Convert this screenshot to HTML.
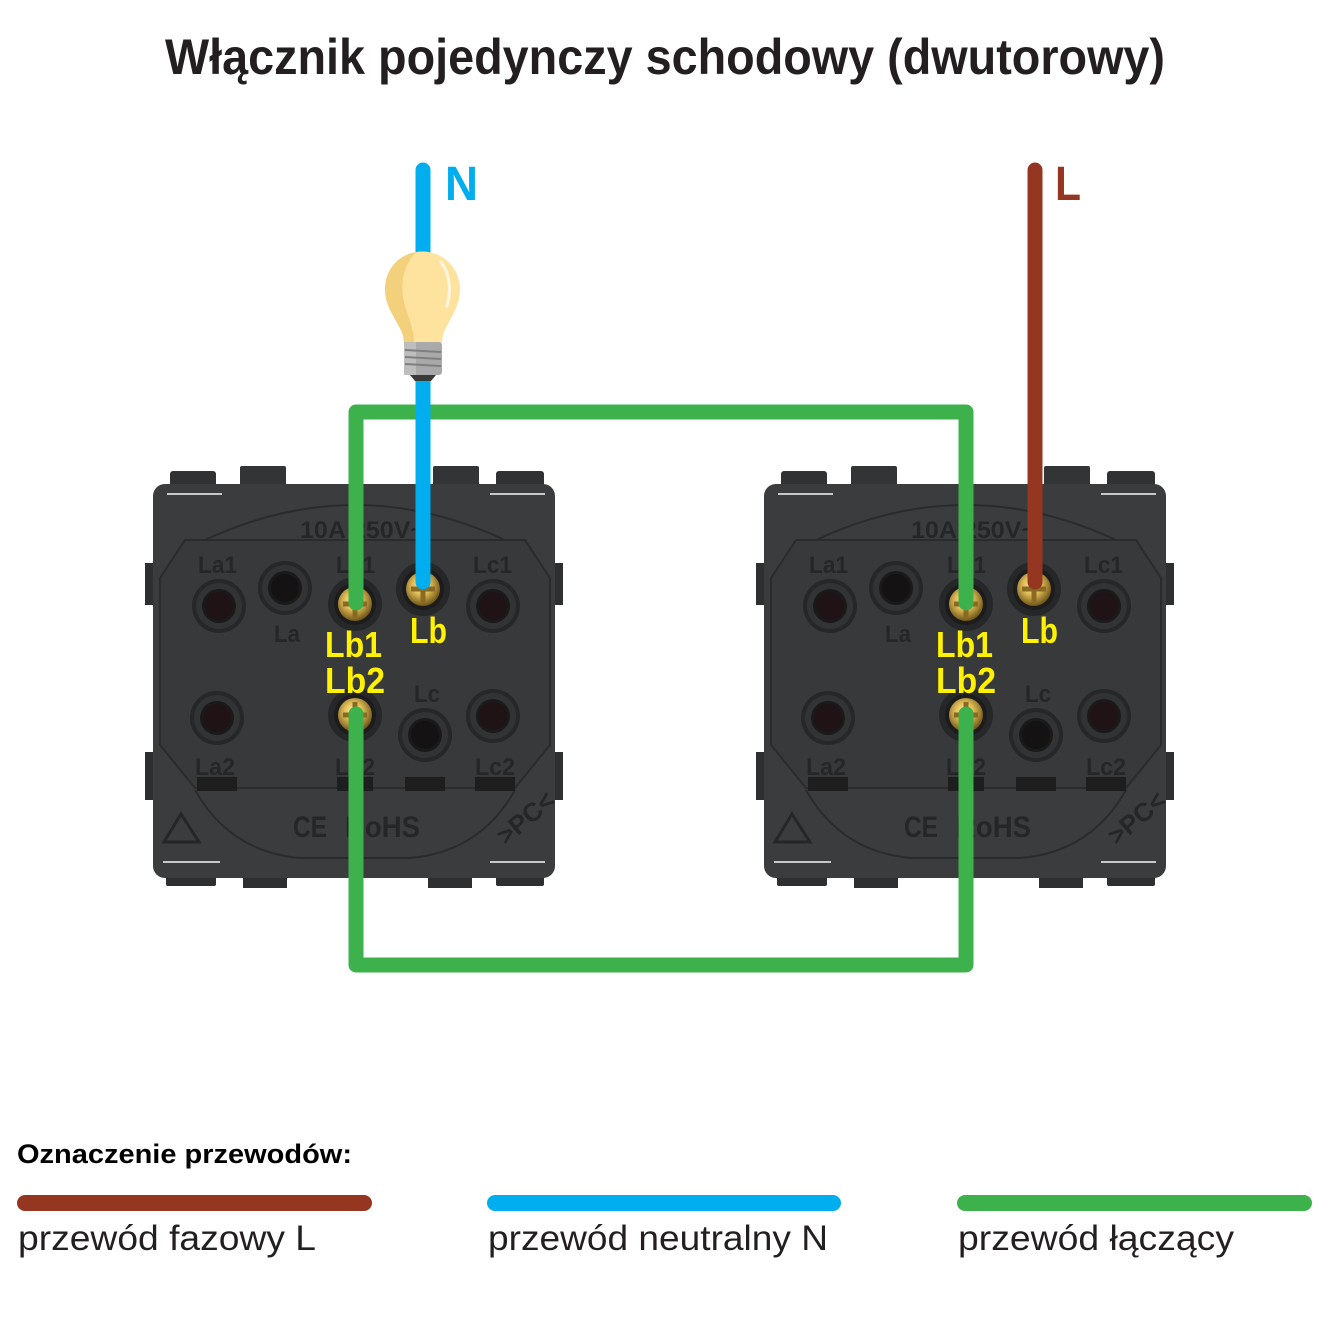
<!DOCTYPE html>
<html><head><meta charset="utf-8"><style>
html,body{margin:0;padding:0;background:#fff;}
svg{display:block;}
text{font-family:"Liberation Sans",sans-serif;}
.emb{fill:#252628;font-weight:bold;}
</style></head><body>
<svg width="1330" height="1330" viewBox="0 0 1330 1330" xmlns="http://www.w3.org/2000/svg">
<defs>
<radialGradient id="brass" cx="0.45" cy="0.4" r="0.6">
<stop offset="0" stop-color="#fff2b0"/>
<stop offset="0.45" stop-color="#e0bc55"/>
<stop offset="1" stop-color="#6e5519"/>
</radialGradient>
</defs>
<rect width="1330" height="1330" fill="#fff"/>

<text x="165" y="74" font-size="50" font-weight="bold" fill="#231f20" textLength="1000" lengthAdjust="spacingAndGlyphs">Włącznik pojedynczy schodowy (dwutorowy)</text>

<!-- MODULE LEFT -->
<g>
<rect x="145" y="563" width="14" height="42" fill="#2e2f31"/>
<rect x="145" y="752" width="14" height="48" fill="#2e2f31"/>
<rect x="549" y="563" width="14" height="42" fill="#2e2f31"/>
<rect x="549" y="752" width="14" height="48" fill="#2e2f31"/>
<rect x="170" y="471" width="46" height="22" rx="3" fill="#303133"/>
<rect x="240" y="466" width="46" height="22" rx="2" fill="#333436"/>
<rect x="433" y="466" width="46" height="22" rx="2" fill="#333436"/>
<rect x="496" y="471" width="48" height="22" rx="3" fill="#303133"/>
<rect x="166" y="866" width="50" height="20" rx="2" fill="#2e2f31"/>
<rect x="243" y="866" width="44" height="22" fill="#2e2f31"/>
<rect x="428" y="866" width="44" height="22" fill="#2e2f31"/>
<rect x="496" y="866" width="48" height="20" rx="2" fill="#2e2f31"/>
<rect x="153" y="484" width="402" height="394" rx="12" fill="#3b3c3e"/>
<line x1="167" y1="494" x2="222" y2="494" stroke="#c8c8c8" stroke-width="2"/>
<line x1="490" y1="494" x2="545" y2="494" stroke="#c8c8c8" stroke-width="2"/>
<line x1="163" y1="862" x2="220" y2="862" stroke="#c8c8c8" stroke-width="2"/>
<line x1="490" y1="862" x2="545" y2="862" stroke="#c8c8c8" stroke-width="2"/>
<path d="M205,540 Q355,470 505,540" fill="none" stroke="#2a2b2d" stroke-width="2"/>
<path d="M195,790 Q230,852 300,858 L410,858 Q480,852 515,790" fill="none" stroke="#2a2b2d" stroke-width="2"/>
<path d="M160,578 L185,540 L525,540 L550,578 L550,745 L515,788 L195,788 L160,745 Z" fill="#38393b" stroke="#2a2b2d" stroke-width="2"/>
<rect x="197" y="777" width="40" height="14" fill="#1e1e1f"/>
<rect x="337" y="777" width="36" height="14" fill="#1e1e1f"/>
<rect x="405" y="777" width="40" height="14" fill="#1e1e1f"/>
<rect x="475" y="777" width="40" height="14" fill="#1e1e1f"/>
<text class="emb" x="300" y="538" font-size="24" textLength="125" lengthAdjust="spacingAndGlyphs">10A 250V~</text>
<text class="emb" x="198" y="573" font-size="24" textLength="39" lengthAdjust="spacingAndGlyphs">La1</text>
<text class="emb" x="336" y="573" font-size="24" textLength="39" lengthAdjust="spacingAndGlyphs">Lb1</text>
<text class="emb" x="473" y="573" font-size="24" textLength="39" lengthAdjust="spacingAndGlyphs">Lc1</text>
<text class="emb" x="274" y="642" font-size="24" textLength="26" lengthAdjust="spacingAndGlyphs">La</text>
<text class="emb" x="414" y="702" font-size="24" textLength="26" lengthAdjust="spacingAndGlyphs">Lc</text>
<text class="emb" x="195" y="775" font-size="24" textLength="40" lengthAdjust="spacingAndGlyphs">La2</text>
<text class="emb" x="335" y="775" font-size="24" textLength="40" lengthAdjust="spacingAndGlyphs">Lb2</text>
<text class="emb" x="475" y="775" font-size="24" textLength="40" lengthAdjust="spacingAndGlyphs">Lc2</text>
<text class="emb" x="293" y="837" font-size="30" textLength="34" lengthAdjust="spacingAndGlyphs">CE</text>
<text class="emb" x="345" y="837" font-size="30" textLength="75" lengthAdjust="spacingAndGlyphs">RoHS</text>
<path d="M181,814 L199,842 L164,842 Z" fill="none" stroke="#252628" stroke-width="3"/>
<text class="emb" x="0" y="0" font-size="26" transform="translate(506,846) rotate(-40)">&gt;PC&lt;</text>
<g>
<circle cx="219" cy="606" r="27" fill="#262729"/><circle cx="219" cy="606" r="23" fill="#323335"/><circle cx="219" cy="606" r="17" fill="#1a1a1b"/><circle cx="219" cy="606" r="14" fill="#1f1315"/>
<circle cx="285" cy="588" r="27" fill="#262729"/><circle cx="285" cy="588" r="23" fill="#323335"/><circle cx="285" cy="588" r="17" fill="#1a1a1b"/><circle cx="285" cy="588" r="14" fill="#141213"/>
<circle cx="493" cy="606" r="27" fill="#262729"/><circle cx="493" cy="606" r="23" fill="#323335"/><circle cx="493" cy="606" r="17" fill="#1a1a1b"/><circle cx="493" cy="606" r="14" fill="#1f1315"/>
<circle cx="217" cy="718" r="27" fill="#262729"/><circle cx="217" cy="718" r="23" fill="#323335"/><circle cx="217" cy="718" r="17" fill="#1a1a1b"/><circle cx="217" cy="718" r="14" fill="#1f1315"/>
<circle cx="425" cy="735" r="27" fill="#262729"/><circle cx="425" cy="735" r="23" fill="#323335"/><circle cx="425" cy="735" r="17" fill="#1a1a1b"/><circle cx="425" cy="735" r="14" fill="#141213"/>
<circle cx="493" cy="716" r="27" fill="#262729"/><circle cx="493" cy="716" r="23" fill="#323335"/><circle cx="493" cy="716" r="17" fill="#1a1a1b"/><circle cx="493" cy="716" r="14" fill="#1f1315"/>
</g>
<g>
<circle cx="355" cy="604" r="27" fill="#262729"/><circle cx="355" cy="604" r="21" fill="#1c1c1c"/><circle cx="355" cy="604" r="17" fill="url(#brass)"/>
<path d="M343,604 L367,604 M355,604 L355,618" stroke="#8a6a22" stroke-width="5"/>
<circle cx="423" cy="589" r="27" fill="#262729"/><circle cx="423" cy="589" r="21" fill="#1c1c1c"/><circle cx="423" cy="589" r="17" fill="url(#brass)"/>
<path d="M411,589 L435,589 M423,589 L423,603" stroke="#8a6a22" stroke-width="5"/>
<circle cx="355" cy="715" r="27" fill="#262729"/><circle cx="355" cy="715" r="21" fill="#1c1c1c"/><circle cx="355" cy="715" r="17" fill="url(#brass)"/>
<path d="M343,715 L367,715 M355,702 L355,728" stroke="#8a6a22" stroke-width="5"/>
</g>
</g>

<!-- MODULE RIGHT -->
<g transform="translate(611,0)">
<rect x="145" y="563" width="14" height="42" fill="#2e2f31"/>
<rect x="145" y="752" width="14" height="48" fill="#2e2f31"/>
<rect x="549" y="563" width="14" height="42" fill="#2e2f31"/>
<rect x="549" y="752" width="14" height="48" fill="#2e2f31"/>
<rect x="170" y="471" width="46" height="22" rx="3" fill="#303133"/>
<rect x="240" y="466" width="46" height="22" rx="2" fill="#333436"/>
<rect x="433" y="466" width="46" height="22" rx="2" fill="#333436"/>
<rect x="496" y="471" width="48" height="22" rx="3" fill="#303133"/>
<rect x="166" y="866" width="50" height="20" rx="2" fill="#2e2f31"/>
<rect x="243" y="866" width="44" height="22" fill="#2e2f31"/>
<rect x="428" y="866" width="44" height="22" fill="#2e2f31"/>
<rect x="496" y="866" width="48" height="20" rx="2" fill="#2e2f31"/>
<rect x="153" y="484" width="402" height="394" rx="12" fill="#3b3c3e"/>
<line x1="167" y1="494" x2="222" y2="494" stroke="#c8c8c8" stroke-width="2"/>
<line x1="490" y1="494" x2="545" y2="494" stroke="#c8c8c8" stroke-width="2"/>
<line x1="163" y1="862" x2="220" y2="862" stroke="#c8c8c8" stroke-width="2"/>
<line x1="490" y1="862" x2="545" y2="862" stroke="#c8c8c8" stroke-width="2"/>
<path d="M205,540 Q355,470 505,540" fill="none" stroke="#2a2b2d" stroke-width="2"/>
<path d="M195,790 Q230,852 300,858 L410,858 Q480,852 515,790" fill="none" stroke="#2a2b2d" stroke-width="2"/>
<path d="M160,578 L185,540 L525,540 L550,578 L550,745 L515,788 L195,788 L160,745 Z" fill="#38393b" stroke="#2a2b2d" stroke-width="2"/>
<rect x="197" y="777" width="40" height="14" fill="#1e1e1f"/>
<rect x="337" y="777" width="36" height="14" fill="#1e1e1f"/>
<rect x="405" y="777" width="40" height="14" fill="#1e1e1f"/>
<rect x="475" y="777" width="40" height="14" fill="#1e1e1f"/>
<text class="emb" x="300" y="538" font-size="24" textLength="125" lengthAdjust="spacingAndGlyphs">10A 250V~</text>
<text class="emb" x="198" y="573" font-size="24" textLength="39" lengthAdjust="spacingAndGlyphs">La1</text>
<text class="emb" x="336" y="573" font-size="24" textLength="39" lengthAdjust="spacingAndGlyphs">Lb1</text>
<text class="emb" x="473" y="573" font-size="24" textLength="39" lengthAdjust="spacingAndGlyphs">Lc1</text>
<text class="emb" x="274" y="642" font-size="24" textLength="26" lengthAdjust="spacingAndGlyphs">La</text>
<text class="emb" x="414" y="702" font-size="24" textLength="26" lengthAdjust="spacingAndGlyphs">Lc</text>
<text class="emb" x="195" y="775" font-size="24" textLength="40" lengthAdjust="spacingAndGlyphs">La2</text>
<text class="emb" x="335" y="775" font-size="24" textLength="40" lengthAdjust="spacingAndGlyphs">Lb2</text>
<text class="emb" x="475" y="775" font-size="24" textLength="40" lengthAdjust="spacingAndGlyphs">Lc2</text>
<text class="emb" x="293" y="837" font-size="30" textLength="34" lengthAdjust="spacingAndGlyphs">CE</text>
<text class="emb" x="345" y="837" font-size="30" textLength="75" lengthAdjust="spacingAndGlyphs">RoHS</text>
<path d="M181,814 L199,842 L164,842 Z" fill="none" stroke="#252628" stroke-width="3"/>
<text class="emb" x="0" y="0" font-size="26" transform="translate(506,846) rotate(-40)">&gt;PC&lt;</text>
<g>
<circle cx="219" cy="606" r="27" fill="#262729"/><circle cx="219" cy="606" r="23" fill="#323335"/><circle cx="219" cy="606" r="17" fill="#1a1a1b"/><circle cx="219" cy="606" r="14" fill="#1f1315"/>
<circle cx="285" cy="588" r="27" fill="#262729"/><circle cx="285" cy="588" r="23" fill="#323335"/><circle cx="285" cy="588" r="17" fill="#1a1a1b"/><circle cx="285" cy="588" r="14" fill="#141213"/>
<circle cx="493" cy="606" r="27" fill="#262729"/><circle cx="493" cy="606" r="23" fill="#323335"/><circle cx="493" cy="606" r="17" fill="#1a1a1b"/><circle cx="493" cy="606" r="14" fill="#1f1315"/>
<circle cx="217" cy="718" r="27" fill="#262729"/><circle cx="217" cy="718" r="23" fill="#323335"/><circle cx="217" cy="718" r="17" fill="#1a1a1b"/><circle cx="217" cy="718" r="14" fill="#1f1315"/>
<circle cx="425" cy="735" r="27" fill="#262729"/><circle cx="425" cy="735" r="23" fill="#323335"/><circle cx="425" cy="735" r="17" fill="#1a1a1b"/><circle cx="425" cy="735" r="14" fill="#141213"/>
<circle cx="493" cy="716" r="27" fill="#262729"/><circle cx="493" cy="716" r="23" fill="#323335"/><circle cx="493" cy="716" r="17" fill="#1a1a1b"/><circle cx="493" cy="716" r="14" fill="#1f1315"/>
</g>
<g>
<circle cx="355" cy="604" r="27" fill="#262729"/><circle cx="355" cy="604" r="21" fill="#1c1c1c"/><circle cx="355" cy="604" r="17" fill="url(#brass)"/>
<path d="M343,604 L367,604 M355,604 L355,618" stroke="#8a6a22" stroke-width="5"/>
<circle cx="423" cy="589" r="27" fill="#262729"/><circle cx="423" cy="589" r="21" fill="#1c1c1c"/><circle cx="423" cy="589" r="17" fill="url(#brass)"/>
<path d="M411,589 L435,589 M423,589 L423,603" stroke="#8a6a22" stroke-width="5"/>
<circle cx="355" cy="715" r="27" fill="#262729"/><circle cx="355" cy="715" r="21" fill="#1c1c1c"/><circle cx="355" cy="715" r="17" fill="url(#brass)"/>
<path d="M343,715 L367,715 M355,702 L355,728" stroke="#8a6a22" stroke-width="5"/>
</g>
</g>

<!-- WIRES -->
<path d="M356,603 L356,412 L966,412 L966,603" fill="none" stroke="#3db14b" stroke-width="15" stroke-linecap="round" stroke-linejoin="round"/>
<path d="M356,714 L356,965 L966,965 L966,714" fill="none" stroke="#3db14b" stroke-width="15" stroke-linecap="round" stroke-linejoin="round"/>
<line x1="423" y1="170" x2="423" y2="582" stroke="#00aeef" stroke-width="15" stroke-linecap="round"/>
<line x1="1035" y1="170" x2="1035" y2="582" stroke="#953720" stroke-width="15" stroke-linecap="round"/>

<!-- BULB -->
<path d="M404,343 C404,325 385,313 385,289 A37.5,37.5 0 1 1 460,289 C460,313 442,325 442,343 Z" fill="#fde39d"/>
<path d="M404,343 C404,325 385,313 385,289 C385,270 398,255 416,252 C403,266 399,286 405,306 C410,321 414,331 414,343 Z" fill="#f3d07c"/>
<path d="M441,262 Q454,280 447,306" fill="none" stroke="#fff6df" stroke-width="3" stroke-linecap="round"/>
<rect x="404" y="342" width="38" height="33" rx="3" fill="#a9a9a9"/>
<rect x="404" y="342" width="12" height="33" fill="#bdbdbd"/>
<line x1="405" y1="350" x2="441" y2="352" stroke="#7f7f7f" stroke-width="2"/>
<line x1="405" y1="357" x2="441" y2="359" stroke="#7f7f7f" stroke-width="2"/>
<line x1="405" y1="364" x2="441" y2="366" stroke="#7f7f7f" stroke-width="2"/>
<path d="M410,375 L436,375 L431,381 L415,381 Z" fill="#3a3a3a"/>

<text x="445" y="200" font-size="48" font-weight="bold" fill="#00aeef" textLength="33" lengthAdjust="spacingAndGlyphs">N</text>
<text x="1055" y="200" font-size="48" font-weight="bold" fill="#953720" textLength="26" lengthAdjust="spacingAndGlyphs">L</text>

<!-- YELLOW LABELS -->
<g font-size="36" font-weight="bold" fill="#fff200">
<text x="325" y="657" textLength="57" lengthAdjust="spacingAndGlyphs">Lb1</text>
<text x="325" y="693" textLength="60" lengthAdjust="spacingAndGlyphs">Lb2</text>
<text x="410" y="643" textLength="37" lengthAdjust="spacingAndGlyphs">Lb</text>
<text x="936" y="657" textLength="57" lengthAdjust="spacingAndGlyphs">Lb1</text>
<text x="936" y="693" textLength="60" lengthAdjust="spacingAndGlyphs">Lb2</text>
<text x="1021" y="643" textLength="37" lengthAdjust="spacingAndGlyphs">Lb</text>
</g>

<!-- LEGEND -->
<text x="17" y="1163" font-size="27" font-weight="bold" fill="#000" textLength="335" lengthAdjust="spacingAndGlyphs">Oznaczenie przewodów:</text>
<line x1="25" y1="1203" x2="364" y2="1203" stroke="#953720" stroke-width="16" stroke-linecap="round"/>
<line x1="495" y1="1203" x2="833" y2="1203" stroke="#00aeef" stroke-width="16" stroke-linecap="round"/>
<line x1="965" y1="1203" x2="1304" y2="1203" stroke="#3db14b" stroke-width="16" stroke-linecap="round"/>
<g font-size="35" fill="#231f20">
<text x="18" y="1250" textLength="298" lengthAdjust="spacingAndGlyphs">przewód fazowy L</text>
<text x="488" y="1250" textLength="340" lengthAdjust="spacingAndGlyphs">przewód neutralny N</text>
<text x="958" y="1250" textLength="276" lengthAdjust="spacingAndGlyphs">przewód łączący</text>
</g>
</svg>
</body></html>
